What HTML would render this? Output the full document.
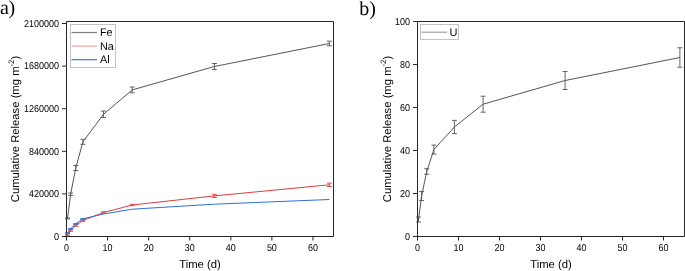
<!DOCTYPE html><html><head><meta charset="utf-8"><style>html,body{margin:0;padding:0;background:#fff;}svg{display:block;} svg{will-change:transform}</style></head><body><svg width="685" height="271" viewBox="0 0 685 271" font-family='"Liberation Sans", sans-serif' fill="#000" text-rendering="geometricPrecision">
<rect width="685" height="271" fill="#fff"/>
<text x="0" y="14.1" font-family="'Liberation Serif', serif" font-size="20">a<tspan dx="-0.5">)</tspan></text>
<text x="359.35" y="14.9" font-family="'Liberation Serif', serif" font-size="20">b)</text>
<path d="M66.5,21.5H333.5V236.5H66.5Z" fill="none" stroke="#262626" stroke-width="1"/>
<path d="M62.0,236.5H66.5M62.0,193.9H66.5M62.0,151.3H66.5M62.0,108.69999999999999H66.5M62.0,66.1H66.5M62.0,23.5H66.5M66.50,236.5V240.5M107.58,236.5V240.5M148.65,236.5V240.5M189.73,236.5V240.5M230.81,236.5V240.5M271.88,236.5V240.5M312.96,236.5V240.5" stroke="#262626" stroke-width="1"/>
<text x="59.0" y="239.8" text-anchor="end" font-size="10.0" textLength="5.00" lengthAdjust="spacingAndGlyphs">0</text>
<text x="59.0" y="197.20000000000002" text-anchor="end" font-size="10.0" textLength="30.00" lengthAdjust="spacingAndGlyphs">420000</text>
<text x="59.0" y="154.60000000000002" text-anchor="end" font-size="10.0" textLength="30.00" lengthAdjust="spacingAndGlyphs">840000</text>
<text x="59.0" y="111.99999999999999" text-anchor="end" font-size="10.0" textLength="35.00" lengthAdjust="spacingAndGlyphs">1260000</text>
<text x="59.0" y="69.39999999999999" text-anchor="end" font-size="10.0" textLength="35.00" lengthAdjust="spacingAndGlyphs">1680000</text>
<text x="59.0" y="26.8" text-anchor="end" font-size="10.0" textLength="35.00" lengthAdjust="spacingAndGlyphs">2100000</text>
<text x="66.50" y="251.0" text-anchor="middle" font-size="10.0" textLength="5.00" lengthAdjust="spacingAndGlyphs">0</text>
<text x="107.58" y="251.0" text-anchor="middle" font-size="10.0" textLength="10.00" lengthAdjust="spacingAndGlyphs">10</text>
<text x="148.65" y="251.0" text-anchor="middle" font-size="10.0" textLength="10.00" lengthAdjust="spacingAndGlyphs">20</text>
<text x="189.73" y="251.0" text-anchor="middle" font-size="10.0" textLength="10.00" lengthAdjust="spacingAndGlyphs">30</text>
<text x="230.81" y="251.0" text-anchor="middle" font-size="10.0" textLength="10.00" lengthAdjust="spacingAndGlyphs">40</text>
<text x="271.88" y="251.0" text-anchor="middle" font-size="10.0" textLength="10.00" lengthAdjust="spacingAndGlyphs">50</text>
<text x="312.96" y="251.0" text-anchor="middle" font-size="10.0" textLength="10.00" lengthAdjust="spacingAndGlyphs">60</text>
<text x="200.00" y="268" text-anchor="middle" font-size="11.25">Time (d)</text>
<text transform="translate(19.3,129.0) rotate(-90)" text-anchor="middle" font-size="11.25">Cumulative Release (mg m<tspan font-size="7.8" dy="-5.1">-2</tspan><tspan dy="5.1">)</tspan></text>
<polyline points="67.53,218.50 70.61,194.30 75.74,168.00 82.93,141.80 103.47,114.30 132.22,89.90 214.38,66.50 329.39,43.50" fill="none" stroke="#555555" stroke-width="1.0" stroke-linejoin="round"/>
<path d="M67.53,218.00V219.00M65.03,218.00H70.03M65.03,219.00H70.03M70.61,193.10V195.50M68.11,193.10H73.11M68.11,195.50H73.11M75.74,165.50V170.50M73.24,165.50H78.24M73.24,170.50H78.24M82.93,139.30V144.30M80.43,139.30H85.43M80.43,144.30H85.43M103.47,111.00V117.60M100.97,111.00H105.97M100.97,117.60H105.97M132.22,87.00V92.80M129.72,87.00H134.72M129.72,92.80H134.72M214.38,63.50V69.50M211.88,63.50H216.88M211.88,69.50H216.88M329.39,41.20V45.80M326.89,41.20H331.89M326.89,45.80H331.89" fill="none" stroke="#555555" stroke-width="0.9"/>
<polyline points="67.53,234.50 70.61,230.50 75.74,225.50 82.93,220.50 103.47,212.50 132.22,205.00 214.38,195.90 329.39,184.80" fill="none" stroke="#e03c3c" stroke-width="1.0" stroke-linejoin="round"/>
<path d="M67.53,233.75V235.25M65.03,233.75H70.03M65.03,235.25H70.03M70.61,229.70V231.30M68.11,229.70H73.11M68.11,231.30H73.11M75.74,224.70V226.30M73.24,224.70H78.24M73.24,226.30H78.24M82.93,219.70V221.30M80.43,219.70H85.43M80.43,221.30H85.43M103.47,211.80V213.20M100.97,211.80H105.97M100.97,213.20H105.97M132.22,204.30V205.70M129.72,204.30H134.72M129.72,205.70H134.72M214.38,194.30V197.50M211.88,194.30H216.88M211.88,197.50H216.88M329.39,183.10V186.50M326.89,183.10H331.89M326.89,186.50H331.89" fill="none" stroke="#e03c3c" stroke-width="0.9"/>
<polyline points="67.53,233.00 70.61,228.80 75.74,223.80 82.93,218.80 103.47,214.00 132.22,209.20 214.38,204.20 329.39,199.50" fill="none" stroke="#2f6fd6" stroke-width="1.0" stroke-linejoin="round"/>
<path d="M67.53,232.65V233.35M65.03,232.65H70.03M65.03,233.35H70.03M70.61,228.45V229.15M68.11,228.45H73.11M68.11,229.15H73.11M75.74,223.45V224.15M73.24,223.45H78.24M73.24,224.15H78.24M82.93,218.45V219.15M80.43,218.45H85.43M80.43,219.15H85.43" fill="none" stroke="#2f6fd6" stroke-width="0.9"/>
<rect x="70.5" y="24.5" width="45" height="43" fill="#fff" stroke="#c4c4c4" stroke-width="1"/>
<path d="M71.5,32.5H97" stroke="#808080" stroke-width="1.2"/>
<text x="100" y="36.2" font-size="11.0" textLength="12.60" lengthAdjust="spacingAndGlyphs">Fe</text>
<path d="M71.5,46.1H97" stroke="#f0a0a0" stroke-width="1.2"/>
<text x="100" y="49.8" font-size="11.0" textLength="13.80" lengthAdjust="spacingAndGlyphs">Na</text>
<path d="M71.5,59.7H97" stroke="#3a78dc" stroke-width="1.2"/>
<text x="100" y="63.4" font-size="11.0" textLength="9.60" lengthAdjust="spacingAndGlyphs">Al</text>
<path d="M417.5,21.5H684.5V236.5H417.5Z" fill="none" stroke="#262626" stroke-width="1"/>
<path d="M413.0,236.5H417.5M413.0,193.5H417.5M413.0,150.5H417.5M413.0,107.5H417.5M413.0,64.5H417.5M413.0,21.5H417.5M417.50,236.5V240.5M458.50,236.5V240.5M499.50,236.5V240.5M540.50,236.5V240.5M581.50,236.5V240.5M622.50,236.5V240.5M663.50,236.5V240.5" stroke="#262626" stroke-width="1"/>
<text x="410.0" y="239.8" text-anchor="end" font-size="10.0" textLength="5.00" lengthAdjust="spacingAndGlyphs">0</text>
<text x="410.0" y="196.8" text-anchor="end" font-size="10.0" textLength="10.00" lengthAdjust="spacingAndGlyphs">20</text>
<text x="410.0" y="153.8" text-anchor="end" font-size="10.0" textLength="10.00" lengthAdjust="spacingAndGlyphs">40</text>
<text x="410.0" y="110.8" text-anchor="end" font-size="10.0" textLength="10.00" lengthAdjust="spacingAndGlyphs">60</text>
<text x="410.0" y="67.8" text-anchor="end" font-size="10.0" textLength="10.00" lengthAdjust="spacingAndGlyphs">80</text>
<text x="410.0" y="24.8" text-anchor="end" font-size="10.0" textLength="15.00" lengthAdjust="spacingAndGlyphs">100</text>
<text x="417.50" y="251.0" text-anchor="middle" font-size="10.0" textLength="5.00" lengthAdjust="spacingAndGlyphs">0</text>
<text x="458.50" y="251.0" text-anchor="middle" font-size="10.0" textLength="10.00" lengthAdjust="spacingAndGlyphs">10</text>
<text x="499.50" y="251.0" text-anchor="middle" font-size="10.0" textLength="10.00" lengthAdjust="spacingAndGlyphs">20</text>
<text x="540.50" y="251.0" text-anchor="middle" font-size="10.0" textLength="10.00" lengthAdjust="spacingAndGlyphs">30</text>
<text x="581.50" y="251.0" text-anchor="middle" font-size="10.0" textLength="10.00" lengthAdjust="spacingAndGlyphs">40</text>
<text x="622.50" y="251.0" text-anchor="middle" font-size="10.0" textLength="10.00" lengthAdjust="spacingAndGlyphs">50</text>
<text x="663.50" y="251.0" text-anchor="middle" font-size="10.0" textLength="10.00" lengthAdjust="spacingAndGlyphs">60</text>
<text x="551.00" y="268" text-anchor="middle" font-size="11.25">Time (d)</text>
<text transform="translate(391.3,129.0) rotate(-90)" text-anchor="middle" font-size="11.25">Cumulative Release (mg m<tspan font-size="7.8" dy="-5.1">-2</tspan><tspan dy="5.1">)</tspan></text>
<polyline points="418.52,219.50 421.60,196.00 426.73,171.50 433.90,149.60 454.40,127.00 483.10,104.20 565.10,80.50 679.90,57.50" fill="none" stroke="#555555" stroke-width="1.0" stroke-linejoin="round"/>
<path d="M418.52,217.00V222.00M416.02,217.00H421.02M416.02,222.00H421.02M421.60,191.50V200.50M419.10,191.50H424.10M419.10,200.50H424.10M426.73,168.70V174.30M424.23,168.70H429.23M424.23,174.30H429.23M433.90,145.10V154.10M431.40,145.10H436.40M431.40,154.10H436.40M454.40,120.40V133.60M451.90,120.40H456.90M451.90,133.60H456.90M483.10,96.20V112.20M480.60,96.20H485.60M480.60,112.20H485.60M565.10,71.50V89.50M562.60,71.50H567.60M562.60,89.50H567.60M679.90,47.75V67.25M677.40,47.75H682.40M677.40,67.25H682.40" fill="none" stroke="#555555" stroke-width="0.9"/>
<rect x="420.5" y="24.5" width="38" height="15" fill="#fff" stroke="#c4c4c4" stroke-width="1"/>
<path d="M421.5,32.2H447" stroke="#a0a0a0" stroke-width="1.2"/>
<text x="449.6" y="35.9" font-size="11.0">U</text>
</svg></body></html>
